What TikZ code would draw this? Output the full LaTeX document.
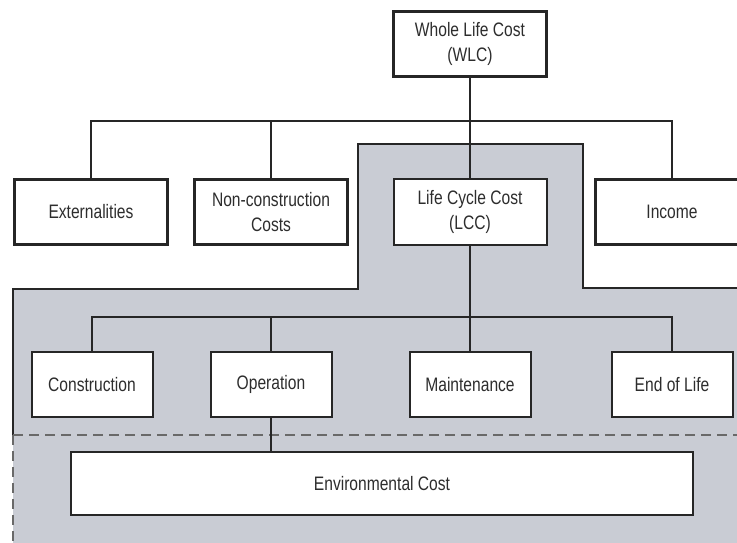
\documentclass[tikz,border=0pt]{standalone}
\usepackage{fontspec}
\setmainfont{Liberation Sans}[FakeStretch=0.8]
\definecolor{regiongray}{RGB}{201,204,212}
\definecolor{txtgray}{RGB}{45,45,45}
\definecolor{dashgray}{RGB}{105,105,105}
\begin{document}
\begin{tikzpicture}[x=1pt,y=-1pt,
  base/.style={draw=black!85, fill=white, text=txtgray, align=center, inner sep=0pt,
     font=\fontsize{19.5}{25}\selectfont},
  thickbox/.style={base, line width=3.4pt, minimum width=153pt, minimum height=65pt},
  lccbox/.style={base, line width=2pt, minimum width=153pt, minimum height=66pt},
  lowbox/.style={base, line width=2pt, minimum width=121pt, minimum height=65pt},
  envbox/.style={base, line width=2pt, minimum width=622pt, minimum height=63pt},
  conn/.style={draw=black!85, line width=1.2pt},
  border/.style={draw=black!85, line width=2pt},
  dash line/.style={draw=dashgray, line width=1.6pt, dash pattern=on 10pt off 6pt}]
\useasboundingbox (0,0) rectangle (737,542);
\clip (0,0) rectangle (737,542);
% shaded LCC region
\fill[regiongray] (13,289) -- (358,289) -- (358,144) -- (583,144) -- (583,288)
   -- (745,288) -- (745,550) -- (13,550) -- cycle;
\draw[border] (13,435) -- (13,289) -- (358,289) -- (358,144) -- (583,144) -- (583,288) -- (745,288);
\draw[dash line] (13,435) -- (745,435);
\draw[dash line] (13,435) -- (13,550);
% nodes
\node[thickbox] (wlc) at (470,44) {Whole Life Cost\\(WLC)};
\node[thickbox] (ext) at (91,212) {Externalities};
\node[thickbox] (ncc) at (271,212) {Non-construction\\Costs};
\node[lccbox]   (lcc) at (470,212) {Life Cycle Cost\\(LCC)};
\node[thickbox] (inc) at (672,212) {Income};
\node[lowbox] (con) at (92,384.5) {Construction};
\node[lowbox] (ope) at (271,384.5) {Operation};
\node[lowbox] (mai) at (470,384.5) {Maintenance};
\node[lowbox] (eol) at (672,384.5) {End of Life};
\node[envbox] (env) at (382,483.5) {Environmental Cost};
% connectors
\coordinate (busA) at (470,121);
\coordinate (busB) at (470,317);
\draw[conn] (wlc.south) -- (busA);
\draw[conn] (ext.north) |- (busA) -| (inc.north);
\draw[conn] (ncc.north) -- (ncc.north |- busA);
\draw[conn] (busA) -- (lcc.north);
\draw[conn] (lcc.south) -- (busB);
\draw[conn] (con.north) |- (busB) -| (eol.north);
\draw[conn] (ope.north) -- (ope.north |- busB);
\draw[conn] (busB) -- (mai.north);
\draw[conn] (ope.south) -- (ope.south |- env.north);
\end{tikzpicture}
\end{document}
